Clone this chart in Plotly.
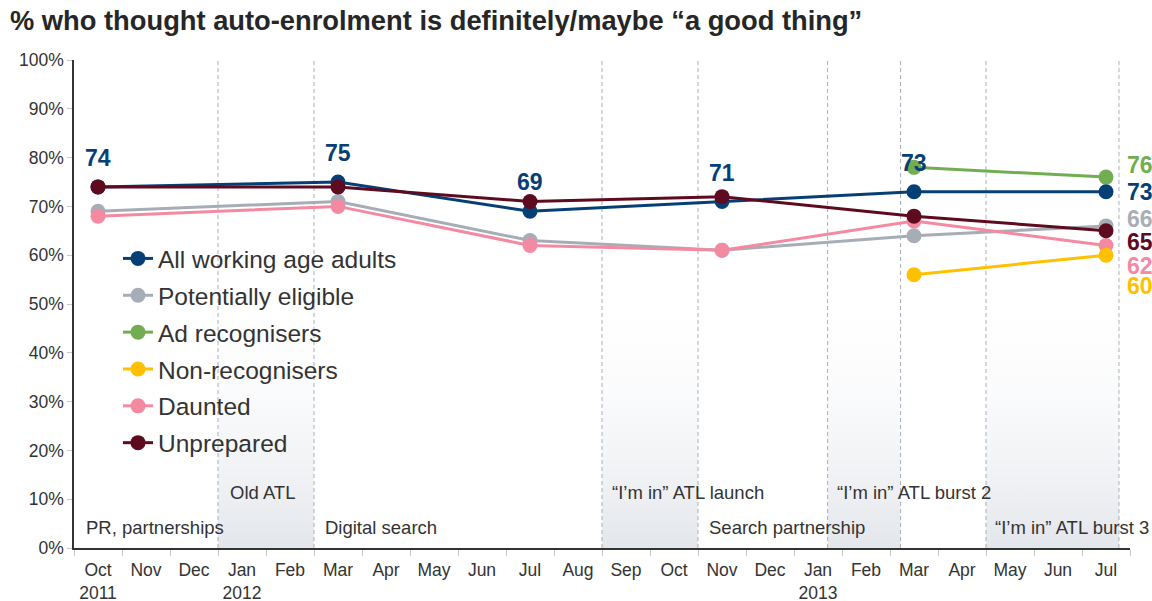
import plotly.graph_objects as go

# Survey waves (month index from Oct 2011 = 0)
months = ["Oct<br>2011", "Nov", "Dec", "Jan<br>2012", "Feb", "Mar", "Apr", "May", "Jun",
          "Jul", "Aug", "Sep", "Oct", "Nov", "Dec", "Jan<br>2013", "Feb", "Mar", "Apr",
          "May", "Jun", "Jul"]
waves_all = [0, 5, 9, 13, 17, 21]
waves_new = [17, 21]

all_adults = [74, 75, 69, 71, 73, 73]
potentially_eligible = [69, 71, 63, 61, 64, 66]
ad_recognisers = [78, 76]
non_recognisers = [56, 60]
daunted = [68, 70, 62, 61, 67, 62]
unprepared = [74, 74, 71, 72, 68, 65]

# Campaign periods (start, end) on the month axis
campaign_bands = [(2.5, 4.5), (10.5, 12.5), (15.2, 16.72), (18.5, 21.27)]
campaign_labels = ["PR, partnerships", "Old ATL", "Digital search", "“I’m in” ATL launch",
                   "Search partnership", "“I’m in” ATL burst 2", "“I’m in” ATL burst 3"]
campaign_label_x = [-0.3, 2.7, 4.68, 10.67, 12.68, 15.35, 18.65]
campaign_label_y = [4.1, 11.3, 4.1, 11.3, 4.1, 11.3, 4.1]

FONT = "Liberation Sans, Arial, sans-serif"
NAVY = "#063f75"
GREY = "#a7adb6"
GREEN = "#72ad52"
YELLOW = "#ffc000"
PINK = "#f48aa2"
MAROON = "#5e0a1f"

fig = go.Figure()

# Shaded campaign bands with a vertical gradient (grey at the bottom fading to white)
for x0, x1 in campaign_bands:
    fig.add_trace(go.Scatter(
        x=[x0, x1, x1, x0, x0], y=[0, 0, 100, 100, 0],
        mode="lines", line=dict(width=0), fill="toself",
        fillgradient=dict(type="vertical",
                          colorscale=[[0, "rgb(227,230,235)"], [0.55, "rgba(255,255,255,0)"],
                                      [1, "rgba(255,255,255,0)"]]),
        hoverinfo="skip", showlegend=False))

# Dashed band edges
edge_x, edge_y = [], []
for x0, x1 in campaign_bands:
    for xv in (x0, x1):
        edge_x += [xv, xv, None]
        edge_y += [0, 100, None]
fig.add_trace(go.Scatter(x=edge_x, y=edge_y, mode="lines",
                         line=dict(color="#a9b0bb", width=1, dash="4px,3px"),
                         hoverinfo="skip", showlegend=False))

series = [
    ("Potentially eligible", waves_all, potentially_eligible, GREY, 2),
    ("Daunted", waves_all, daunted, PINK, 5),
    ("Ad recognisers", waves_new, ad_recognisers, GREEN, 3),
    ("Non-recognisers", waves_new, non_recognisers, YELLOW, 4),
    ("All working age adults", waves_all, all_adults, NAVY, 1),
    ("Unprepared", waves_all, unprepared, MAROON, 6),
]
for name, xs, ys, color, rank in series:
    fig.add_trace(go.Scatter(
        x=xs, y=ys, name=name, mode="lines+markers",
        line=dict(color=color, width=3),
        marker=dict(color=color, size=15),
        legendrank=rank, legendgroup=name))

annotations = []
# Values above the all-adults line
for xv, yv in zip(waves_all[:-1], all_adults[:-1]):
    annotations.append(dict(x=xv, y=yv, text=f"<b>{yv}</b>", showarrow=False,
                            yshift=29, font=dict(family=FONT, size=23, color=NAVY)))

# End-of-line values
end_labels = [
    (ad_recognisers[-1], GREEN, 12),
    (all_adults[-1], NAVY, 0),
    (potentially_eligible[-1], "#a9aeb6", 7),
    (unprepared[-1], MAROON, -11),
    (daunted[-1], PINK, -21),
    (non_recognisers[-1], YELLOW, -31),
]
for yv, color, shift in end_labels:
    annotations.append(dict(x=waves_all[-1], y=yv, text=f"<b>{yv}</b>", showarrow=False,
                            xanchor="left", xshift=19, yshift=shift,
                            font=dict(family=FONT, size=23, color=color)))

for text, xv, yv in zip(campaign_labels, campaign_label_x, campaign_label_y):
    annotations.append(dict(x=xv, y=yv, text=text, showarrow=False, xanchor="left",
                            yanchor="middle", font=dict(family=FONT, size=18.5, color="#333333")))

fig.update_layout(
    width=1152, height=601,
    margin=dict(l=74, r=22, t=60, b=53),
    paper_bgcolor="white", plot_bgcolor="white",
    font=dict(family=FONT, color="#333333"),
    title=dict(text="<b>% who thought auto-enrolment is definitely/maybe “a good thing”</b>",
               x=10 / 1152, xref="container", xanchor="left",
               y=1 - 20 / 601, yref="container", yanchor="middle",
               font=dict(family=FONT, size=27.3, color="#262626")),
    showlegend=True,
    legend=dict(x=(118 - 74) / 1056, y=(548 - 236) / 488, xanchor="left", yanchor="top",
                bgcolor="rgba(0,0,0,0)", tracegroupgap=2,
                font=dict(family=FONT, size=24.5, color="#333333"), itemwidth=30),
    annotations=annotations,
)
fig.update_xaxes(
    range=[-0.5, 21.5], tickmode="array", tickvals=list(range(len(months))), ticktext=months,
    ticks="", showgrid=False, zeroline=False, showline=True, linecolor="#333333", linewidth=1.5,
    tickfont=dict(family=FONT, size=17.5, color="#333333"), automargin=False, ticklabelstandoff=5,
    minor=dict(tickmode="array", tickvals=[i - 0.5 for i in range(len(months) + 1)],
               ticks="outside", ticklen=6, tickcolor="#c8c8c8", tickwidth=1, showgrid=False),
)
fig.update_yaxes(
    range=[0, 100], tickmode="array", tickvals=list(range(0, 101, 10)),
    ticktext=[f"{v}%" for v in range(0, 101, 10)],
    ticks="outside", ticklen=5, tickcolor="#c8c8c8", showgrid=False, zeroline=False,
    showline=True, linecolor="#333333", linewidth=1.5, automargin=False,
    tickfont=dict(family=FONT, size=17.5, color="#333333"),
)

fig.write_html("out.html")
